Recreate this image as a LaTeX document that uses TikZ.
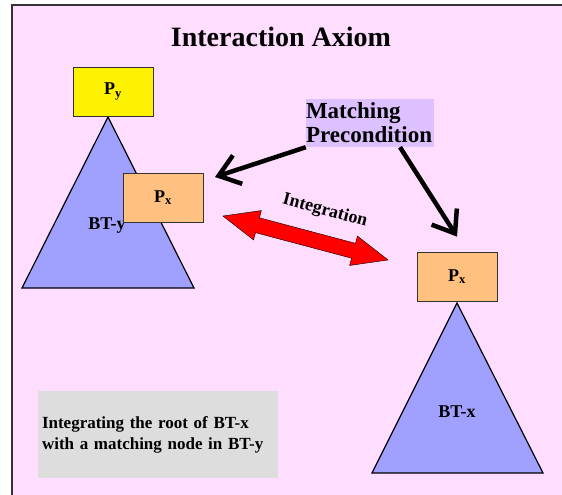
\documentclass[tikz,border=0pt]{standalone}
\usepackage{fontspec}
\setmainfont{Liberation Serif}
\usetikzlibrary{arrows.meta,shapes.arrows}
\definecolor{slidebg}{RGB}{255,221,255}
\definecolor{treeblue}{RGB}{160,160,255}
\definecolor{rootorange}{RGB}{255,192,128}
\definecolor{notelilac}{RGB}{221,192,255}
\definecolor{notegrey}{RGB}{221,221,221}
\tikzset{
	pbox/.style={draw=black!80,line width=0.8pt,minimum width=80pt,minimum height=49pt,inner sep=0pt,font=\fontsize{18}{20}\selectfont\bfseries},
	tree/.style={draw,fill=treeblue,line width=1.2pt},
	pointer/.style={line width=4.5pt,-{Straight Barb[length=20pt,width=30pt]}},
	label18/.style={font=\fontsize{18}{20}\selectfont\bfseries},
}

\begin{document}
\begin{tikzpicture}[x=1pt,y=-1pt]
				\useasboundingbox (0,0) rectangle (562,495);
				\fill[slidebg] (12,5) rectangle (562,495);
				\draw[black!80,line width=1.5pt] (562,5) -- (12,5) -- (12,495);
				
				\node[font=\fontsize{28}{30}\selectfont\bfseries,anchor=base] (title) at (281,47) {Interaction Axiom};
				
				\foreach \n/\px/\py in
				{ytop/108/117, yl/22/288, yr/194/288, xtop/457/303, xl/372/473, xr/543/473}{
					\coordinate (\n) at (\px,\py);
				}
				
				% left tree (BT-y)
				\draw[tree] (ytop) -- (yr) -- (yl) -- cycle;
				\node[label18] (bty) at (107,226) {BT-y};
				\node[pbox,fill=yellow] (py) at (113,91.5) {P\textsubscript{y}};
				\node[pbox,fill=rootorange] (pxl) at (163,197.5) {P\textsubscript{x}};
				
				% right tree (BT-x)
				\draw[tree] (xtop) -- (xr) -- (xl) -- cycle;
				\node[label18] (btx) at (457,412) {BT-x};
				\node[pbox,fill=rootorange] (pxr) at (457,276.5) {P\textsubscript{x}};
				
				% precondition + pointers
				\node[fill=notelilac,minimum width=126pt,minimum height=48pt,inner sep=0pt,text width=128pt,align=left,font=\fontsize{23}{24}\selectfont\bfseries] (match) at (370,123) {Matching\\Precondition};
				\coordinate (tipl) at (215,177);
				\draw[pointer] (match.south west) -- (tipl);
				\draw[pointer] ([xshift=30pt]match.south) -- ([yshift=15pt]pxr.north);
				
				% integration arrow
				\node[double arrow,draw,fill=red,rotate=-14.9,minimum height=171pt,inner sep=7.5pt,double arrow head extend=7.5pt,double arrow tip angle=46] (integ) at (305.5,238) {};
				\node[label18,rotate=-15] (integlbl) at (325,211) {Integration};
				
				% note
				\node[fill=notegrey,minimum width=240pt,minimum height=87pt,text width=232pt,align=left,inner xsep=4pt,font=\fontsize{17}{21}\selectfont\bfseries] (note) at (158,434.5) {Integrating the root of BT-x\\with a matching node in BT-y};
			\end{tikzpicture}
\end{document}
